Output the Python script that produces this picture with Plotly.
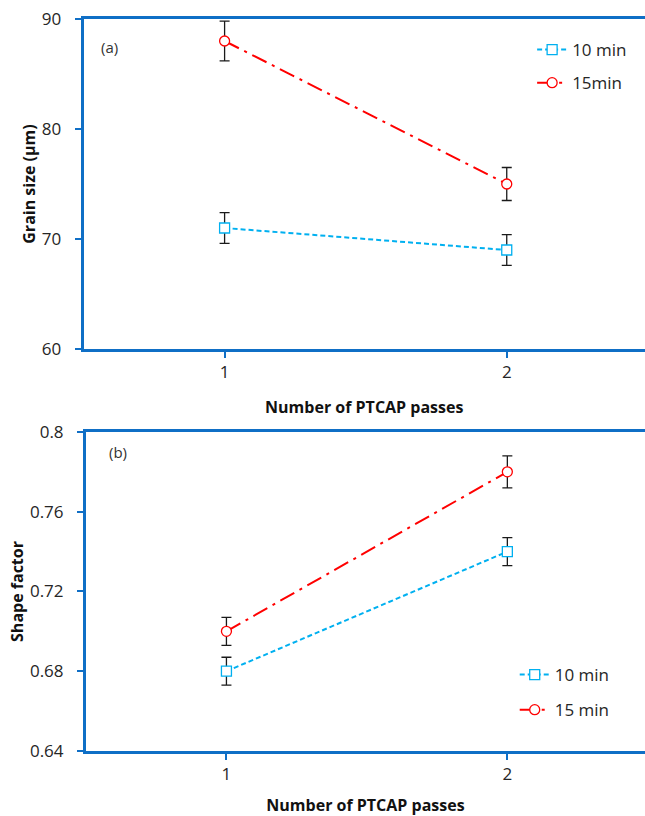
import plotly.graph_objects as go

# Data
passes = [1, 2]
grain_10 = [71, 69]
grain_10_err = [1.4, 1.4]
grain_15 = [88, 75]
grain_15_err = [1.8, 1.5]
shape_10 = [0.68, 0.74]
shape_10_err = [0.007, 0.007]
shape_15 = [0.70, 0.78]
shape_15_err = [0.007, 0.008]

grain_ticks = [60, 70, 80, 90]
shape_ticks = [0.64, 0.68, 0.72, 0.76, 0.8]
shape_ticktext = ["0.64", "0.68", "0.72", "0.76", "0.8"]

BLUE_AX = "#0F6FC6"
CYAN = "#00B0F0"
RED = "#FF0000"
FONT = "Open Sans"
TXT = "#262626"

fig = go.Figure()

def add(x, y, err, name, color, symbol, dash, xa, ya, legend, group):
    fig.add_trace(go.Scatter(
        x=x, y=y, name=name, xaxis=xa, yaxis=ya, legend=legend, legendgroup=group,
        mode="lines+markers",
        line=dict(color=color, width=2, dash=dash),
        marker=dict(symbol=symbol, size=10, color="white",
                    line=dict(color=color, width=1.3)),
        error_y=dict(type="data", array=err, visible=True,
                     color="#1a1a1a", thickness=1.3, width=5),
    ))

DASH10 = "5px,3px"
DASH15 = "16px,6px,3px,6px"
add(passes, grain_10, grain_10_err, "10 min", CYAN, "square", DASH10, "x", "y", "legend", "a10")
add(passes, grain_15, grain_15_err, "15min", RED, "circle", DASH15, "x", "y", "legend", "a15")
add(passes, shape_10, shape_10_err, "10 min", CYAN, "square", DASH10, "x2", "y2", "legend2", "b10")
add(passes, shape_15, shape_15_err, "15 min", RED, "circle", DASH15, "x2", "y2", "legend2", "b15")

axis_common = dict(showgrid=False, zeroline=False, showline=True, automargin=False,
                   linecolor=BLUE_AX, linewidth=3,
                   ticks="outside", tickcolor=BLUE_AX, tickwidth=2, ticklen=6,
                   tickfont=dict(family=FONT, size=17, color=TXT))
y_common = dict(axis_common, ticklabelstandoff=10)

title_font = dict(family=FONT, size=16, color="#111111", weight="bold")

fig.update_layout(
    width=645, height=816,
    margin=dict(l=0, r=0, t=0, b=0, autoexpand=False),
    paper_bgcolor="white", plot_bgcolor="white",
    font=dict(family=FONT, color=TXT),
    xaxis=dict(axis_common, domain=[0.1295, 1.0], anchor="y",
               range=[0.5, 2.49], tickvals=passes, mirror=True,
               title=dict(text="Number of PTCAP passes", font=title_font, standoff=20)),
    yaxis=dict(y_common, domain=[0.5723, 0.9767], anchor="x",
               range=[60, 90], tickvals=grain_ticks,
               title=dict(text="Grain size (µm)", font=title_font, standoff=3)),
    xaxis2=dict(axis_common, domain=[0.1333, 1.0], anchor="y2",
                range=[0.5, 2.49], tickvals=passes, mirror=True,
                title=dict(text="Number of PTCAP passes", font=title_font, standoff=23)),
    yaxis2=dict(y_common, domain=[0.0797, 0.4706], anchor="x2",
                range=[0.64, 0.8], tickvals=shape_ticks, ticktext=shape_ticktext,
                title=dict(text="Shape factor", font=title_font, standoff=3)),
    legend=dict(x=0.825, y=1 - 32 / 816, xanchor="left", yanchor="top",
                bgcolor="rgba(0,0,0,0)", font=dict(family=FONT, size=17, color=TXT),
                tracegroupgap=8),
    legend2=dict(x=0.798, y=1 - 657 / 816, xanchor="left", yanchor="top",
                 bgcolor="rgba(0,0,0,0)", font=dict(family=FONT, size=17, color=TXT),
                 tracegroupgap=10),
    showlegend=True,
    annotations=[
        dict(text="(a)", x=99 / 645, y=1 - 47 / 816, xref="paper", yref="paper",
             xanchor="left", yanchor="middle", showarrow=False,
             font=dict(family=FONT, size=15, color="#333333")),
        dict(text="(b)", x=107 / 645, y=1 - 452 / 816, xref="paper", yref="paper",
             xanchor="left", yanchor="middle", showarrow=False,
             font=dict(family=FONT, size=15, color="#333333")),
    ],
)

fig.write_html(
    "out.html",
    config={"displayModeBar": False},
    post_script="document.body.style.margin='0';"
                "document.documentElement.style.overflow='hidden';"
                "document.body.style.overflow='hidden';",
)
